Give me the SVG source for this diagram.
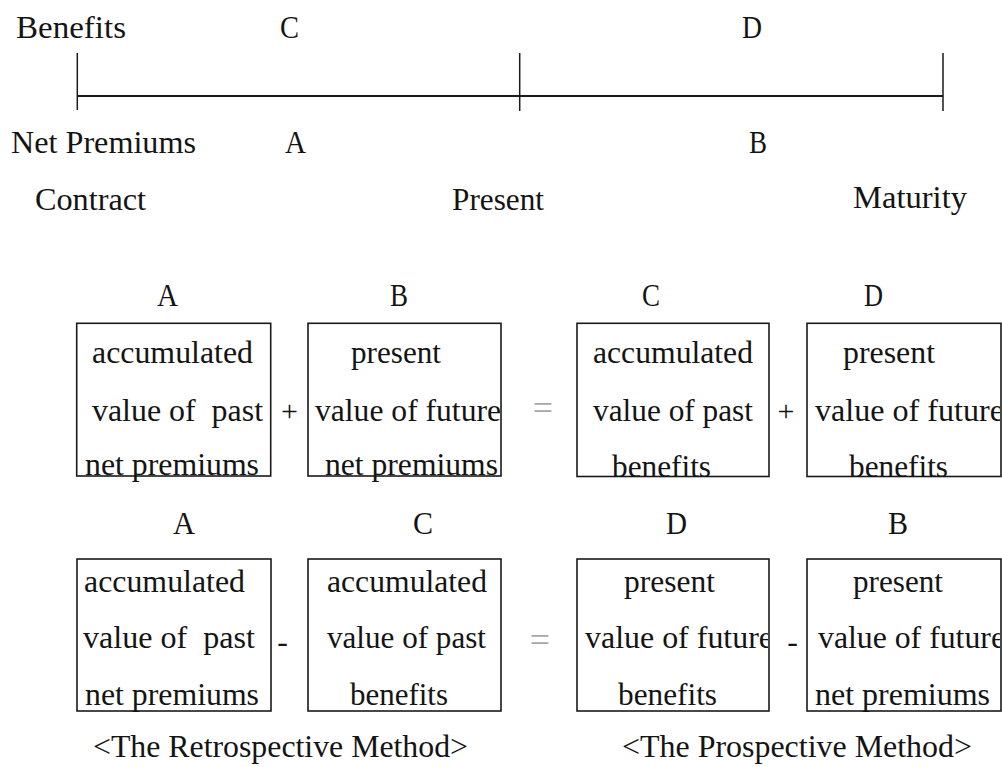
<svg xmlns="http://www.w3.org/2000/svg" width="1002" height="767" viewBox="0 0 1002 767">
<style>
text{font-family:"Liberation Serif","Times New Roman",serif;font-size:32px;fill:#141414}
.op{font-size:30px;text-anchor:middle}
.eq{font-size:36px;text-anchor:middle;fill:#a8a8a8}
.box{fill:none;stroke:#1a1a1a;stroke-width:1.6}
.tl{stroke:#1a1a1a;stroke-width:2;fill:none}
.tk{stroke:#1a1a1a;stroke-width:1.5}
</style>
<defs>
<clipPath id="c2"><rect x="300" y="300" width="200" height="200"/></clipPath>
<clipPath id="c4"><rect x="800" y="300" width="200" height="200"/></clipPath>
<clipPath id="c7"><rect x="570" y="540" width="198" height="200"/></clipPath>
<clipPath id="c8"><rect x="800" y="540" width="200" height="200"/></clipPath>
</defs>
<rect width="1002" height="767" fill="#ffffff"/>

<g id="timeline">
<line class="tl" x1="77" y1="96" x2="943" y2="96"/>
<line class="tk" x1="77.3" y1="53" x2="77.3" y2="110"/>
<line class="tk" x1="519.7" y1="53" x2="519.7" y2="111"/>
<line class="tk" x1="943" y1="53" x2="943" y2="111"/>
</g>
<g id="timeline-labels">
<text x="16" y="38" textLength="110" lengthAdjust="spacingAndGlyphs">Benefits</text>
<text x="280" y="38" textLength="19" lengthAdjust="spacingAndGlyphs">C</text>
<text x="742" y="38" textLength="20" lengthAdjust="spacingAndGlyphs">D</text>
<text x="11" y="153" textLength="185" lengthAdjust="spacingAndGlyphs">Net Premiums</text>
<text x="285" y="153" textLength="21" lengthAdjust="spacingAndGlyphs">A</text>
<text x="749" y="153" textLength="18" lengthAdjust="spacingAndGlyphs">B</text>
<text x="35" y="210" textLength="111" lengthAdjust="spacingAndGlyphs">Contract</text>
<text x="452" y="210" textLength="92" lengthAdjust="spacingAndGlyphs">Present</text>
<text x="853" y="208" textLength="114" lengthAdjust="spacingAndGlyphs">Maturity</text>
</g>

<!-- Row 1 -->
<g id="r1-box-A">
<text x="157" y="306" textLength="21" lengthAdjust="spacingAndGlyphs">A</text>
<rect class="box" x="76.7" y="323.3" width="194" height="152.7"/>
<text x="92" y="362.7" textLength="161" lengthAdjust="spacingAndGlyphs">accumulated</text>
<text x="92" y="420.7" textLength="171" lengthAdjust="spacingAndGlyphs" xml:space="preserve">value of  past</text>
<text x="85" y="475" textLength="174" lengthAdjust="spacingAndGlyphs">net premiums</text>
</g>
<g id="r1-box-B">
<text x="390" y="306" textLength="18" lengthAdjust="spacingAndGlyphs">B</text>
<rect class="box" x="308" y="323.3" width="193" height="152.7"/>
<text x="351" y="362.7" textLength="90" lengthAdjust="spacingAndGlyphs">present</text>
<text x="315" y="420.7" textLength="186" lengthAdjust="spacingAndGlyphs" clip-path="url(#c2)">value of future</text>
<text x="325" y="475" textLength="173" lengthAdjust="spacingAndGlyphs">net premiums</text>
</g>
<g id="r1-box-C">
<text x="642" y="306" textLength="18" lengthAdjust="spacingAndGlyphs">C</text>
<rect class="box" x="577" y="323.3" width="192" height="153.2"/>
<text x="593" y="362.7" textLength="160" lengthAdjust="spacingAndGlyphs">accumulated</text>
<text x="593" y="420.7" textLength="160" lengthAdjust="spacingAndGlyphs">value of past</text>
<text x="612" y="477" textLength="99" lengthAdjust="spacingAndGlyphs">benefits</text>
</g>
<g id="r1-box-D">
<text x="864" y="306" textLength="19" lengthAdjust="spacingAndGlyphs">D</text>
<rect class="box" x="807" y="323.3" width="194" height="153.2"/>
<text x="843" y="362.7" textLength="92" lengthAdjust="spacingAndGlyphs">present</text>
<text x="815" y="420.7" textLength="189" lengthAdjust="spacingAndGlyphs" clip-path="url(#c4)">value of future</text>
<text x="849" y="477" textLength="99" lengthAdjust="spacingAndGlyphs">benefits</text>
</g>
<g id="r1-ops">
<text class="op" x="289.5" y="421">+</text>
<text class="eq" x="543" y="420">=</text>
<text class="op" x="786" y="421">+</text>
</g>

<!-- Row 2 -->
<g id="r2-box-A">
<text x="173" y="534" textLength="22" lengthAdjust="spacingAndGlyphs">A</text>
<rect class="box" x="77" y="559" width="194" height="152"/>
<text x="84" y="592" textLength="161" lengthAdjust="spacingAndGlyphs">accumulated</text>
<text x="83" y="648" textLength="172" lengthAdjust="spacingAndGlyphs" xml:space="preserve">value of  past</text>
<text x="85" y="705" textLength="174" lengthAdjust="spacingAndGlyphs">net premiums</text>
</g>
<g id="r2-box-C">
<text x="413" y="534" textLength="20" lengthAdjust="spacingAndGlyphs">C</text>
<rect class="box" x="308" y="559" width="193" height="152"/>
<text x="327" y="592" textLength="160" lengthAdjust="spacingAndGlyphs">accumulated</text>
<text x="327" y="648" textLength="159" lengthAdjust="spacingAndGlyphs">value of past</text>
<text x="350" y="705" textLength="98" lengthAdjust="spacingAndGlyphs">benefits</text>
</g>
<g id="r2-box-D">
<text x="666" y="534" textLength="21" lengthAdjust="spacingAndGlyphs">D</text>
<rect class="box" x="577" y="559" width="192" height="152"/>
<text x="624" y="592" textLength="91" lengthAdjust="spacingAndGlyphs">present</text>
<text x="585" y="648" textLength="188" lengthAdjust="spacingAndGlyphs" clip-path="url(#c7)">value of future</text>
<text x="618" y="705" textLength="99" lengthAdjust="spacingAndGlyphs">benefits</text>
</g>
<g id="r2-box-B">
<text x="888" y="534" textLength="20" lengthAdjust="spacingAndGlyphs">B</text>
<rect class="box" x="807" y="559" width="194" height="152"/>
<text x="853" y="592" textLength="90" lengthAdjust="spacingAndGlyphs">present</text>
<text x="818" y="648" textLength="187" lengthAdjust="spacingAndGlyphs" clip-path="url(#c8)">value of future</text>
<text x="815" y="705" textLength="175" lengthAdjust="spacingAndGlyphs">net premiums</text>
</g>
<g id="r2-ops">
<text x="282.5" y="652" style="text-anchor:middle">-</text>
<text class="eq" x="540" y="652">=</text>
<text x="792.5" y="652" style="text-anchor:middle">-</text>
</g>

<g id="captions">
<text x="93" y="757" textLength="375" lengthAdjust="spacingAndGlyphs">&lt;The Retrospective Method&gt;</text>
<text x="622" y="757" textLength="350" lengthAdjust="spacingAndGlyphs">&lt;The Prospective Method&gt;</text>
</g>
<g id="connectors"></g>
</svg>
